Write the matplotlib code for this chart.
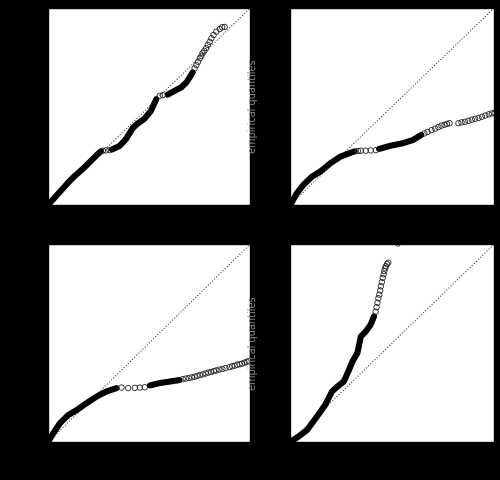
import numpy as np
import matplotlib
matplotlib.use("Agg")
import matplotlib.pyplot as plt

LIM = 6.6

# top-left panel: dense band nodes and sparse circles (expected, observed)
tl_dense_x = [0.02, 0.65, 0.82, 1.20, 1.63, 1.73, None, 2.09, 2.34, 2.54, 2.77, 2.93, 3.15, 3.36, 3.54, None,
              3.91, 4.14, 4.36, 4.52, 4.63, 4.73]
tl_dense_y = [0.02, 0.74, 0.92, 1.27, 1.71, 1.80, None, 1.86, 1.98, 2.20, 2.58, 2.73, 2.89, 3.15, 3.55, None,
              3.70, 3.83, 3.95, 4.11, 4.28, 4.45]
tl_sparse_x = [1.79, 1.89, 2.01, 3.65, 3.75, 4.79, 4.85, 4.90, 4.96, 5.01, 5.05, 5.11, 5.17, 5.22, 5.28,
               5.34, 5.41, 5.50, 5.61, 5.69, 5.77]
tl_sparse_y = [1.82, 1.83, 1.84, 3.66, 3.68, 4.58, 4.69, 4.80, 4.92, 5.00, 5.09, 5.17, 5.26, 5.37, 5.47,
               5.59, 5.70, 5.81, 5.90, 5.96, 5.97]

# top-right panel
tr_dense_x = [0.02, 0.22, 0.43, 0.71, 0.98, 1.31, 1.63, 1.96, 2.10, None, 2.88, 3.27, 3.65, 3.98, 4.25]
tr_dense_y = [0.02, 0.39, 0.67, 0.95, 1.12, 1.40, 1.62, 1.75, 1.80, None, 1.88, 1.99, 2.07, 2.18, 2.35]
tr_sparse_x = [2.20, 2.29, 2.45, 2.61, 2.78, 4.35, 4.45, 4.58, 4.70, 4.80, 4.90, 5.00, 5.08, 5.16,
               5.45, 5.55, 5.66, 5.77, 5.88, 5.99, 6.10, 6.21, 6.32, 6.43, 6.53, 6.62]
tr_sparse_y = [1.81, 1.82, 1.82, 1.83, 1.84, 2.40, 2.45, 2.51, 2.56, 2.61, 2.66, 2.69, 2.72, 2.74,
               2.74, 2.77, 2.79, 2.82, 2.86, 2.89, 2.92, 2.96, 3.00, 3.04, 3.07, 3.09]

# bottom-left panel
bl_dense_x = [0.01, 0.17, 0.39, 0.66, 0.94, 1.26, 1.59, 1.91, 2.24, None, 3.33, 3.65, 3.98, 4.30]
bl_dense_y = [0.02, 0.29, 0.63, 0.90, 1.07, 1.30, 1.52, 1.69, 1.80, None, 1.89, 1.97, 2.02, 2.07]
bl_sparse_x = [2.40, 2.62, 2.84, 3.00, 3.16, 4.40, 4.50, 4.60, 4.70, 4.79, 4.88, 4.97, 5.06, 5.15,
               5.24, 5.33, 5.42, 5.50, 5.60, 5.70, 5.80, 5.93, 6.02, 6.10, 6.18, 6.26, 6.34,
               6.42, 6.49, 6.56]
bl_sparse_y = [1.82, 1.80, 1.81, 1.82, 1.83, 2.10, 2.12, 2.14, 2.16, 2.18, 2.21, 2.24, 2.26, 2.29,
               2.32, 2.34, 2.37, 2.39, 2.42, 2.44, 2.47, 2.50, 2.53, 2.55, 2.58, 2.60, 2.62,
               2.65, 2.68, 2.70]

# bottom-right panel
br_dense_x = [0.03, 0.27, 0.55, 0.87, 1.14, 1.36, 1.53, 1.74, 1.91, 2.02, 2.18, 2.29, 2.45, 2.61, 2.72]
br_dense_y = [0.02, 0.18, 0.40, 0.85, 1.24, 1.69, 1.85, 2.02, 2.41, 2.69, 2.97, 3.52, 3.69, 3.92, 4.20]
br_sparse_x = [2.77, 2.80, 2.83, 2.86, 2.89, 2.92, 2.94, 2.97, 3.00, 3.03, 3.05, 3.08, 3.10, 3.14, 3.18, 3.49]
br_sparse_y = [4.35, 4.50, 4.65, 4.80, 4.92, 5.06, 5.20, 5.34, 5.48, 5.60, 5.71, 5.80, 5.87, 5.94, 5.99, 6.63]

panels = [
    ([0.096, 0.573, 0.404, 0.410], tl_dense_x, tl_dense_y, tl_sparse_x, tl_sparse_y, 'k'),
    ([0.580, 0.573, 0.408, 0.410], tr_dense_x, tr_dense_y, tr_sparse_x, tr_sparse_y, '#8a8a8a'),
    ([0.096, 0.079, 0.404, 0.412], bl_dense_x, bl_dense_y, bl_sparse_x, bl_sparse_y, 'k'),
    ([0.580, 0.079, 0.408, 0.412], br_dense_x, br_dense_y, br_sparse_x, br_sparse_y, '#8a8a8a'),
]

fig = plt.figure(figsize=(5, 4.8), dpi=100, facecolor='black')

for rect, dx, dy, sx, sy, label_col in panels:
    ax = fig.add_axes(rect)
    ax.set_facecolor('white')
    ax.plot([0, LIM], [0, LIM], color='#444444', linestyle=':', linewidth=0.8, zorder=1)
    dxa = np.array([np.nan if v is None else v for v in dx])
    dya = np.array([np.nan if v is None else v for v in dy])
    ax.plot(dxa, dya, color='k', linewidth=4.4, solid_capstyle='round',
            solid_joinstyle='round', zorder=2)
    ax.scatter(sx, sy, s=15, facecolors='none', edgecolors='#222222',
               linewidths=0.6, zorder=3, clip_on=True)
    ax.set_xlim(0, LIM)
    ax.set_ylim(0, LIM)
    ax.set_xticks([0, 2, 4, 6])
    ax.set_yticks([0, 1, 2, 3, 4, 5, 6])
    ax.tick_params(labelsize=7, colors='k', length=3, width=0.8)
    for sp in ax.spines.values():
        sp.set_color('k')
        sp.set_linewidth(1.0)
    ax.set_xlabel('expected quantiles', fontsize=7, color='k')
    ax.set_ylabel('empirical quantiles', fontsize=7, color=label_col)
    ax.yaxis.set_label_coords(-0.155, 0.5)

fig.savefig('out.png', dpi=100, facecolor='black')
